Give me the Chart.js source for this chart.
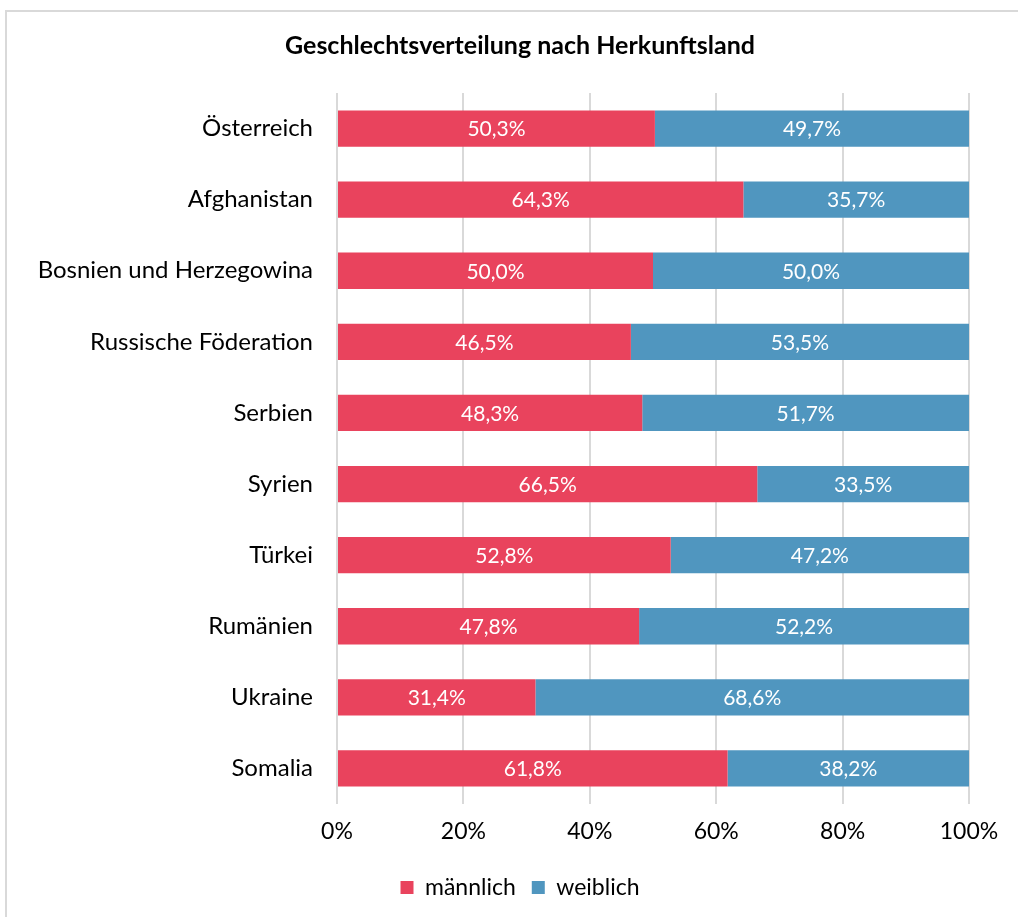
<!DOCTYPE html>
<html>
<head>
<meta charset="utf-8">
<script src="https://cdn.jsdelivr.net/npm/chart.js@4/dist/chart.umd.min.js"></script>
<style>
  html, body { margin: 0; padding: 0; background: #fff; overflow: hidden; }
  #box {
    position: absolute; left: 5px; top: 10px;
    width: 1026px; height: 905px;
    border: 2px solid #d9d9d9;
  }
</style>
</head>
<body>
<div id="box"><canvas id="chart" width="1026" height="905"></canvas></div>
<script>
// data
const countries = ['Österreich', 'Afghanistan', 'Bosnien und Herzegowina', 'Russische Föderation',
  'Serbien', 'Syrien', 'Türkei', 'Rumänien', 'Ukraine', 'Somalia'];
const maennlich = [50.3, 64.3, 50.0, 46.5, 48.3, 66.5, 52.8, 47.8, 31.4, 61.8];
const weiblich = [49.7, 35.7, 50.0, 53.5, 51.7, 33.5, 47.2, 52.2, 68.6, 38.2];
const xTicks = [0, 20, 40, 60, 80, 100];

const FONT = 'Lato, "Open Sans", sans-serif';

function pct(v) {
  return v.toFixed(1).replace('.', ',') + '%';
}

// simple value labels in the middle of each bar
const barLabels = {
  id: 'barLabels',
  afterDatasetsDraw(chart) {
    const ctx = chart.ctx;
    ctx.save();
    ctx.fillStyle = '#ffffff';
    ctx.font = '21px ' + FONT;
    ctx.textAlign = 'center';
    ctx.textBaseline = 'middle';
    chart.data.datasets.forEach((ds, i) => {
      chart.getDatasetMeta(i).data.forEach((bar, j) => {
        const x = (bar.x + bar.base) / 2;
        ctx.fillText(pct(ds.data[j]), x, bar.y + 1);
      });
    });
    ctx.restore();
  }
};

const ctx = document.getElementById('chart').getContext('2d');
const myChart = new Chart(ctx, {
  type: 'bar',
  data: {
    labels: countries,
    datasets: [{
      label: 'männlich',
      data: maennlich,
      backgroundColor: '#e9435d'
    }, {
      label: 'weiblich',
      data: weiblich,
      backgroundColor: '#5096bf'
    }]
  },
  options: {
    indexAxis: 'y',
    responsive: false,
    animation: false,
    layout: {
      padding: { left: 0, right: 0, top: 0, bottom: 8 }
    },
    datasets: {
      bar: { categoryPercentage: 1, barPercentage: 0.51 }
    },
    scales: {
      x: {
        stacked: true,
        min: 0,
        max: 100,
        afterBuildTicks(scale) {
          scale.ticks = xTicks.map(v => ({ value: v }));
        },
        afterFit(scale) {
          scale.height = 56;
        },
        grid: { color: '#d9d9d9', lineWidth: 2, drawTicks: false },
        border: { display: false },
        ticks: {
          padding: 14,
          color: '#000',
          font: { family: FONT, size: 23 },
          callback: v => v + '%'
        }
      },
      y: {
        stacked: true,
        afterFit(scale) {
          scale.width = 330;
        },
        grid: { display: false, drawTicks: false },
        border: { display: false },
        ticks: {
          padding: 24,
          color: '#000',
          font: { family: FONT, size: 24 }
        }
      },
      // empty right axis, only keeps the right margin
      yr: {
        axis: 'y',
        position: 'right',
        afterFit(scale) {
          scale.width = 64;
        },
        grid: { display: false, drawTicks: false },
        border: { display: false },
        ticks: { display: false }
      }
    },
    plugins: {
      title: {
        display: true,
        text: 'Geschlechtsverteilung nach Herkunftsland',
        color: '#000',
        font: { family: FONT, size: 25, weight: 'bold' },
        padding: { top: 19, bottom: 32 }
      },
      legend: {
        position: 'bottom',
        labels: {
          color: '#000',
          font: { family: FONT, size: 23 },
          boxWidth: 13,
          boxHeight: 13,
          padding: 16
        }
      },
      tooltip: { enabled: false }
    }
  },
  plugins: [barLabels]
});
</script>
</body>
</html>
